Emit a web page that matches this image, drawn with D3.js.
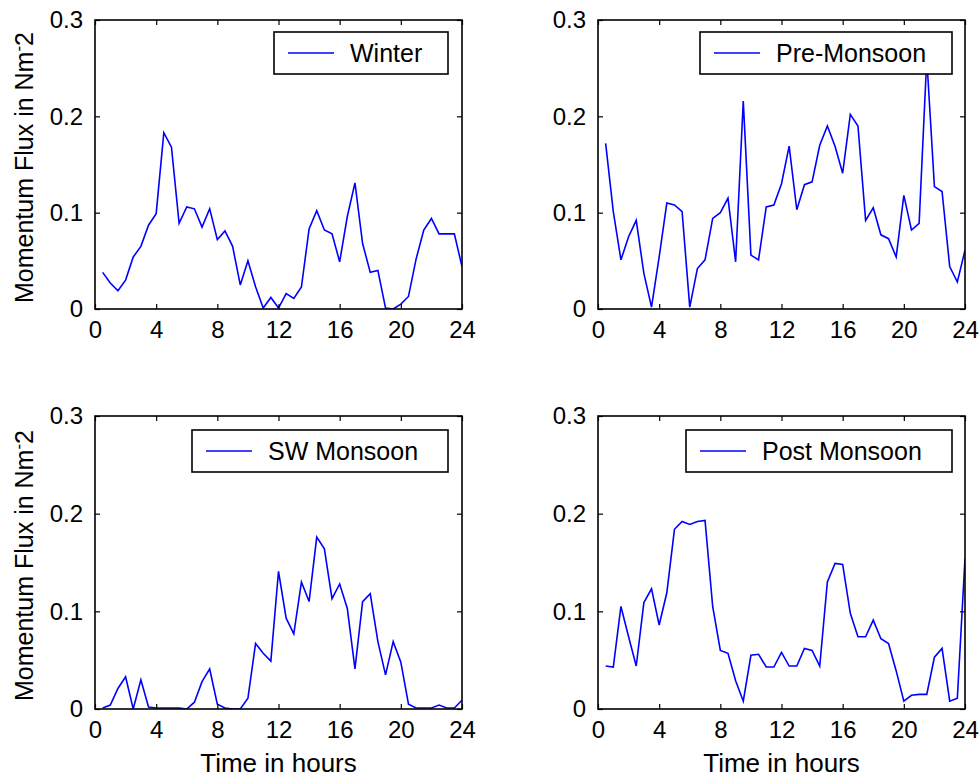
<!DOCTYPE html>
<html>
<head>
<meta charset="utf-8">
<script src="https://cdn.jsdelivr.net/npm/d3@7"></script>
<style>
  html, body { margin: 0; padding: 0; background: #fff; }
  svg text { font-family: "Liberation Sans", Arial, Helvetica, sans-serif; fill: #000; }
</style>
</head>
<body>
<div id="chart"></div>
<script>
// half-hourly samples, 0.5 .. 24 h
const hours = [0.5, 1, 1.5, 2, 2.5, 3, 3.5, 4, 4.5, 5, 5.5, 6, 6.5, 7, 7.5, 8, 8.5, 9, 9.5, 10, 10.5, 11, 11.5, 12,
  12.5, 13, 13.5, 14, 14.5, 15, 15.5, 16, 16.5, 17, 17.5, 18, 18.5, 19, 19.5, 20, 20.5, 21, 21.5, 22, 22.5, 23, 23.5, 24];

const winter = [0.038, 0.027, 0.019, 0.030, 0.054, 0.065, 0.087, 0.099, 0.183, 0.168, 0.089, 0.106, 0.104, 0.085, 0.104, 0.072,
  0.081, 0.065, 0.025, 0.050, 0.023, 0.001, 0.012, 0.001, 0.016, 0.011, 0.023, 0.083, 0.102, 0.082, 0.078, 0.049,
  0.096, 0.131, 0.068, 0.038, 0.040, 0.001, 0.000, 0.005, 0.013, 0.052, 0.082, 0.094, 0.078, 0.078, 0.078, 0.044];

const preMonsoon = [0.172, 0.101, 0.051, 0.075, 0.092, 0.037, 0.002, 0.054, 0.110, 0.108, 0.101, 0.002, 0.042, 0.051, 0.094, 0.100,
  0.115, 0.049, 0.216, 0.056, 0.051, 0.106, 0.108, 0.130, 0.169, 0.103, 0.129, 0.132, 0.170, 0.190, 0.169, 0.141,
  0.202, 0.190, 0.092, 0.105, 0.077, 0.073, 0.054, 0.118, 0.082, 0.089, 0.260, 0.127, 0.122, 0.044, 0.028, 0.061];

const swMonsoon = [0.001, 0.004, 0.021, 0.033, 0.000, 0.030, 0.002, 0.001, 0.001, 0.001, 0.001, 0.000, 0.007, 0.028, 0.041, 0.005,
  0.001, 0.000, 0.000, 0.011, 0.067, 0.057, 0.049, 0.141, 0.093, 0.077, 0.130, 0.110, 0.176, 0.164, 0.113, 0.128,
  0.103, 0.041, 0.110, 0.118, 0.069, 0.035, 0.069, 0.048, 0.005, 0.001, 0.001, 0.001, 0.004, 0.001, 0.001, 0.009];

const postMonsoon = [0.044, 0.043, 0.105, 0.074, 0.044, 0.109, 0.123, 0.086, 0.119, 0.184, 0.192, 0.189, 0.192, 0.193, 0.105, 0.060,
  0.057, 0.029, 0.008, 0.055, 0.056, 0.043, 0.043, 0.058, 0.044, 0.044, 0.062, 0.060, 0.044, 0.130, 0.149, 0.148,
  0.098, 0.074, 0.074, 0.091, 0.072, 0.067, 0.039, 0.008, 0.014, 0.015, 0.015, 0.053, 0.062, 0.008, 0.011, 0.154];

const xTicks = [0, 4, 8, 12, 16, 20, 24];
const yTicks = [0, 0.1, 0.2, 0.3];

const panels = [
  { name: "Winter", values: winter, x0: 95, x1: 462, y0: 20, y1: 309, legend: [274, 32, 174, 42], yLabel: true, xLabel: false },
  { name: "Pre-Monsoon", values: preMonsoon, x0: 598, x1: 965, y0: 20, y1: 309, legend: [700, 32, 252, 42], yLabel: false, xLabel: false },
  { name: "SW Monsoon", values: swMonsoon, x0: 95, x1: 462, y0: 416, y1: 709, legend: [192, 430, 256, 42], yLabel: true, xLabel: true },
  { name: "Post Monsoon", values: postMonsoon, x0: 598, x1: 965, y0: 416, y1: 709, legend: [686, 430, 266, 42], yLabel: false, xLabel: true }
];

const width = 980, height = 780;
const svg = d3.select("#chart").append("svg").attr("width", width).attr("height", height);

panels.forEach((p, i) => {
  const x = d3.scaleLinear().domain([0, 24]).range([p.x0, p.x1]);
  const y = d3.scaleLinear().domain([0, 0.3]).range([p.y1, p.y0]);
  const g = svg.append("g");

  // clip so the trace stays inside the box
  svg.append("clipPath").attr("id", "clip" + i)
    .append("rect").attr("x", p.x0).attr("y", p.y0).attr("width", p.x1 - p.x0).attr("height", p.y1 - p.y0);

  const data = hours.map((h, k) => ({ h, v: p.values[k] }));
  const line = d3.line().x(d => x(d.h)).y(d => y(d.v));
  g.append("path").datum(data)
    .attr("clip-path", `url(#clip${i})`)
    .attr("fill", "none").attr("stroke", "#0000ff").attr("stroke-width", 1.6)
    .attr("d", line);

  // matlab style axes: inward ticks on all four sides
  const tick = 5;
  const axes = [
    d3.axisBottom(x).tickValues(xTicks).tickSizeInner(-tick).tickSizeOuter(0).tickPadding(12).tickFormat(d3.format("d")),
    d3.axisTop(x).tickValues(xTicks).tickSizeInner(-tick).tickSizeOuter(0).tickFormat(""),
    d3.axisLeft(y).tickValues(yTicks).tickSizeInner(-tick).tickSizeOuter(0).tickPadding(12).tickFormat(d => d === 0 ? "0" : d3.format(".1f")(d)),
    d3.axisRight(y).tickValues(yTicks).tickSizeInner(-tick).tickSizeOuter(0).tickFormat("")
  ];
  const pos = [`translate(0,${p.y1})`, `translate(0,${p.y0})`, `translate(${p.x0},0)`, `translate(${p.x1},0)`];
  axes.forEach((ax, k) => {
    const a = g.append("g").attr("transform", pos[k]).call(ax);
    a.select(".domain").remove();
    a.selectAll("line").attr("stroke", "#000").attr("stroke-width", 1.2);
    a.selectAll("text").attr("font-size", 24).attr("fill", "#111")
      .style("font-family", '"Liberation Sans", Arial, sans-serif');
  });

  g.append("rect")
    .attr("x", p.x0).attr("y", p.y0).attr("width", p.x1 - p.x0).attr("height", p.y1 - p.y0)
    .attr("fill", "none").attr("stroke", "#000").attr("stroke-width", 1.6);

  // legend
  const [lx, ly, lw, lh] = p.legend;
  const leg = g.append("g");
  leg.append("rect").attr("x", lx).attr("y", ly).attr("width", lw).attr("height", lh)
    .attr("fill", "#fff").attr("stroke", "#000").attr("stroke-width", 1.6);
  leg.append("line").attr("x1", lx + 14).attr("x2", lx + 60).attr("y1", ly + lh / 2).attr("y2", ly + lh / 2)
    .attr("stroke", "#0000ff").attr("stroke-width", 1.6);
  leg.append("text").attr("x", lx + 76).attr("y", ly + lh / 2 + 9)
    .attr("font-size", 25).attr("fill", "#111").text(p.name);

  if (p.yLabel) {
    const t = g.append("text")
      .attr("transform", `translate(${p.x0 - 62},${(p.y0 + p.y1) / 2 + 3}) rotate(-90)`)
      .attr("text-anchor", "middle").attr("font-size", 25).attr("fill", "#111");
    t.append("tspan").text("Momentum Flux in Nm");
    t.append("tspan").attr("font-size", 17).attr("dy", -9).text("-");
    t.append("tspan").attr("dy", 9).text("2");
  }
  if (p.xLabel) {
    g.append("text").attr("x", (p.x0 + p.x1) / 2).attr("y", 772)
      .attr("text-anchor", "middle").attr("font-size", 26).attr("fill", "#111").text("Time in hours");
  }
});
</script>
</body>
</html>
